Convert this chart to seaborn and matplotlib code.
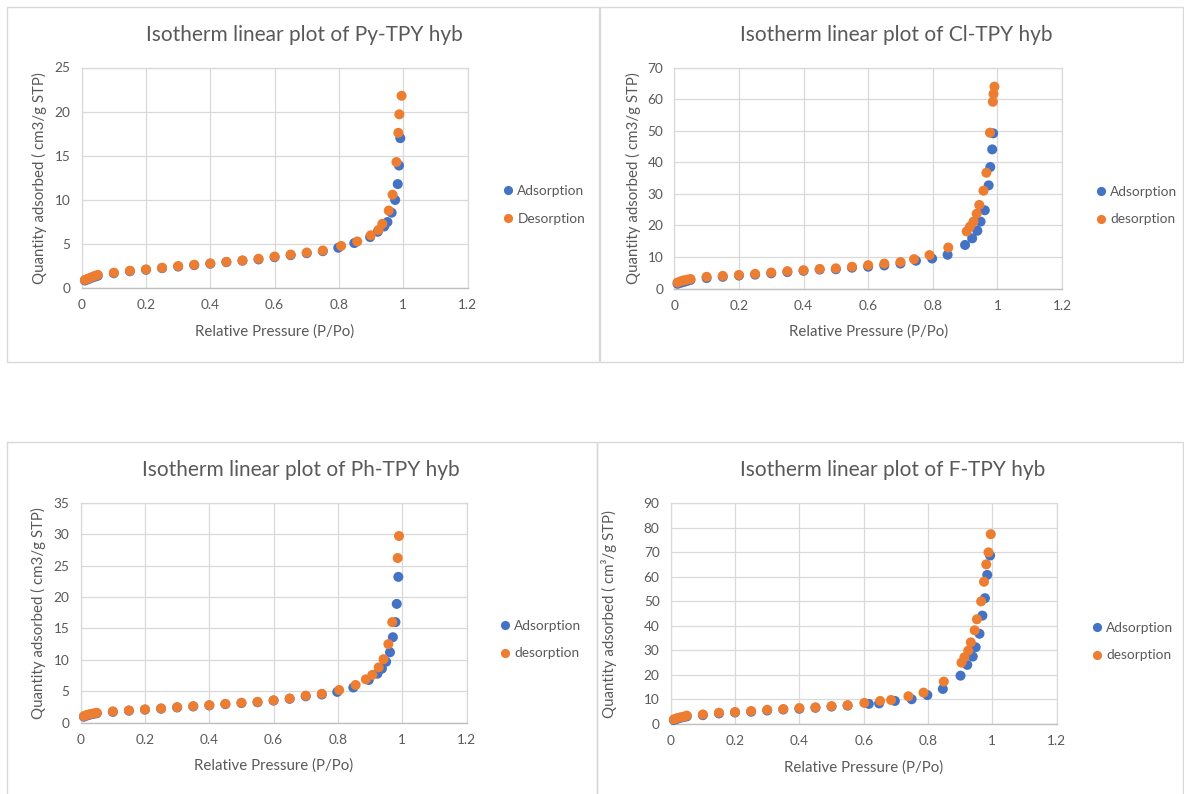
import numpy as np
import pandas as pd
import matplotlib
matplotlib.use("Agg")
import matplotlib.pyplot as plt
from matplotlib.lines import Line2D
from matplotlib.patches import Rectangle
import seaborn as sns

sns.set_theme(style="white")
plt.rcParams["font.family"] = ["Lato", "DejaVu Sans"]

TEXT = "#595959"
GRID = "#D9D9D9"
AXIS = "#BFBFBF"
BLUE = "#4472C4"
ORANGE = "#ED7D31"

W, H = 1184, 794

x_ticks = [0, 0.2, 0.4, 0.6, 0.8, 1.0, 1.2]
x_tick_labels = ["0", "0.2", "0.4", "0.6", "0.8", "1", "1.2"]

# ---- Py-TPY hyb ----
py_ads_x = [0.01, 0.02, 0.03, 0.04, 0.05, 0.10, 0.15, 0.20, 0.25, 0.30, 0.35, 0.40, 0.45, 0.50, 0.55,
            0.60, 0.65, 0.70, 0.75, 0.798, 0.848, 0.897, 0.921, 0.941, 0.951, 0.964, 0.975, 0.983, 0.987, 0.991]
py_ads_y = [0.88, 1.02, 1.17, 1.30, 1.42, 1.70, 1.93, 2.09, 2.28, 2.46, 2.62, 2.78, 2.96, 3.12, 3.27,
            3.52, 3.75, 3.97, 4.20, 4.59, 5.12, 5.80, 6.40, 7.00, 7.50, 8.56, 10.0, 11.8, 13.9, 17.0]
py_des_x = [0.01, 0.02, 0.03, 0.04, 0.05, 0.10, 0.15, 0.20, 0.25, 0.30, 0.35, 0.40, 0.45, 0.50, 0.55,
            0.60, 0.65, 0.70, 0.75, 0.807, 0.857, 0.899, 0.923, 0.935, 0.955, 0.967, 0.979, 0.985, 0.988, 0.995]
py_des_y = [0.95, 1.10, 1.25, 1.40, 1.52, 1.77, 1.99, 2.14, 2.33, 2.52, 2.67, 2.82, 3.00, 3.16, 3.35,
            3.60, 3.82, 4.05, 4.28, 4.80, 5.30, 6.00, 6.60, 7.30, 8.80, 10.6, 14.3, 17.6, 19.7, 21.8]

# ---- Cl-TPY hyb ----
cl_ads_x = [0.01, 0.02, 0.03, 0.04, 0.05, 0.10, 0.15, 0.20, 0.25, 0.30, 0.35, 0.40, 0.45, 0.50, 0.55,
            0.60, 0.65, 0.70, 0.748, 0.798, 0.846, 0.900, 0.922, 0.938, 0.948, 0.961, 0.973, 0.978, 0.984, 0.987]
cl_ads_y = [1.5, 1.8, 2.1, 2.4, 2.7, 3.3, 3.7, 4.1, 4.4, 4.8, 5.2, 5.6, 6.0, 6.1, 6.6,
            6.9, 7.3, 7.9, 8.8, 9.5, 10.7, 13.8, 15.9, 18.3, 21.2, 24.8, 32.7, 38.5, 44.1, 49.2]
cl_des_x = [0.01, 0.02, 0.03, 0.04, 0.05, 0.10, 0.15, 0.20, 0.25, 0.30, 0.35, 0.40, 0.45, 0.50, 0.55,
            0.60, 0.65, 0.70, 0.742, 0.790, 0.848, 0.905, 0.915, 0.926, 0.936, 0.944, 0.957, 0.966, 0.977,
            0.986, 0.988, 0.991]
cl_des_y = [1.9, 2.3, 2.6, 2.8, 3.0, 3.7, 4.0, 4.3, 4.65, 5.07, 5.5, 5.8, 6.2, 6.4, 6.9,
            7.4, 7.9, 8.4, 9.3, 10.6, 13.0, 18.1, 19.6, 21.2, 23.7, 26.5, 31.0, 36.7, 49.4,
            59.2, 61.7, 64.0]

# ---- Ph-TPY hyb ----
ph_ads_x = [0.01, 0.02, 0.03, 0.04, 0.05, 0.10, 0.15, 0.20, 0.25, 0.30, 0.35, 0.40, 0.45, 0.50, 0.55,
            0.60, 0.65, 0.70, 0.75, 0.798, 0.848, 0.896, 0.923, 0.937, 0.950, 0.962, 0.971, 0.979, 0.983, 0.988]
ph_ads_y = [0.95, 1.15, 1.30, 1.40, 1.50, 1.72, 1.90, 2.07, 2.22, 2.42, 2.58, 2.75, 2.95, 3.12, 3.25,
            3.52, 3.80, 4.20, 4.48, 4.90, 5.60, 6.80, 7.80, 8.60, 9.70, 11.2, 13.6, 16.0, 18.9, 23.2]
ph_des_x = [0.01, 0.02, 0.03, 0.04, 0.05, 0.10, 0.15, 0.20, 0.25, 0.30, 0.35, 0.40, 0.45, 0.50, 0.55,
            0.60, 0.65, 0.70, 0.75, 0.804, 0.855, 0.887, 0.907, 0.927, 0.942, 0.957, 0.969, 0.986, 0.990]
ph_des_y = [1.05, 1.25, 1.38, 1.48, 1.58, 1.80, 1.96, 2.12, 2.28, 2.48, 2.64, 2.80, 3.00, 3.18, 3.32,
            3.56, 3.86, 4.30, 4.60, 5.20, 6.00, 6.90, 7.60, 8.80, 10.1, 12.5, 16.0, 26.2, 29.7]

# ---- F-TPY hyb ----
f_ads_x = [0.01, 0.02, 0.03, 0.04, 0.05, 0.10, 0.15, 0.20, 0.25, 0.30, 0.35, 0.40, 0.45, 0.50, 0.55,
           0.616, 0.648, 0.697, 0.749, 0.798, 0.846, 0.901, 0.922, 0.939, 0.948, 0.960, 0.969, 0.977, 0.984, 0.993]
f_ads_y = [1.6, 2.1, 2.5, 2.8, 3.1, 3.6, 4.3, 4.7, 5.0, 5.5, 5.9, 6.2, 6.6, 7.1, 7.5,
           8.2, 8.4, 9.4, 10.1, 11.8, 14.3, 19.7, 24.1, 27.5, 31.3, 36.8, 44.2, 51.3, 60.8, 68.7]
f_des_x = [0.01, 0.02, 0.03, 0.04, 0.05, 0.10, 0.15, 0.20, 0.25, 0.30, 0.35, 0.40, 0.45, 0.50, 0.55,
           0.602, 0.651, 0.685, 0.739, 0.786, 0.849, 0.904, 0.913, 0.925, 0.933, 0.945, 0.952, 0.965, 0.974,
           0.981, 0.988, 0.995]
f_des_y = [1.9, 2.4, 2.7, 3.0, 3.4, 3.9, 4.6, 4.9, 5.3, 5.8, 6.1, 6.5, 6.8, 7.3, 7.7,
           8.6, 9.4, 9.8, 11.3, 12.8, 17.3, 25.0, 27.2, 29.9, 33.3, 38.2, 42.7, 50.0, 58.0,
           65.1, 70.0, 77.4]

titles = ["Isotherm linear plot of Py-TPY hyb", "Isotherm linear plot of Cl-TPY hyb",
          "Isotherm linear plot of Ph-TPY hyb", "Isotherm linear plot of F-TPY hyb"]
series_names = [("Adsorption", "Desorption"), ("Adsorption", "desorption"),
                ("Adsorption", "desorption"), ("Adsorption", "desorption")]
y_labels = ["Quantity adsorbed ( cm3/g STP)", "Quantity adsorbed ( cm3/g STP)",
            "Quantity adsorbed ( cm3/g STP)", "Quantity adsorbed ( cm³/g STP)"]
y_limits = [(25, 5), (70, 10), (35, 5), (90, 10)]
x_label = "Relative Pressure (P/Po)"

series_data = [
    (py_ads_x, py_ads_y, py_des_x, py_des_y),
    (cl_ads_x, cl_ads_y, cl_des_x, cl_des_y),
    (ph_ads_x, ph_ads_y, ph_des_x, ph_des_y),
    (f_ads_x, f_ads_y, f_des_x, f_des_y),
]

# layout in pixels: plot area (left, top, right, bottom), legend marker x / row y,
# title centre, y-label offset, chart frame (x0, y0, x1, y1)
layout = [
    dict(plot=(81.7, 67.5, 467.5, 288.3), leg=(508, 191, 218.5), title=(304, 35), ylab=39,
         frame=(7, 7, 599, 362)),
    dict(plot=(674.3, 67.7, 1062, 288.5), leg=(1101, 192, 219), title=(896, 35), ylab=633,
         frame=(600, 7, 1183, 362)),
    dict(plot=(80.7, 502.7, 466.5, 722.7), leg=(505, 625.5, 653.5), title=(301, 470), ylab=38,
         frame=(7, 442, 597, 800)),
    dict(plot=(670.7, 503.3, 1056.7, 724), leg=(1097, 627.5, 655.5), title=(893, 470), ylab=609,
         frame=(597, 442, 1183, 800)),
]

FS_TITLE = 15
FS_LABEL = 10.8
FS_TICK = 9.8
FS_LEGEND = 9.8

fig = plt.figure(figsize=(W / 100, H / 100), dpi=100)
fig.patch.set_facecolor("white")

for i in range(4):
    lay = layout[i]
    x0, y0, x1, y1 = lay["frame"]
    fig.add_artist(Rectangle((x0 / W, 1 - y1 / H), (x1 - x0) / W, (y1 - y0) / H,
                             transform=fig.transFigure, fill=False, edgecolor=GRID, lw=1.0))

    l, t, r, b = lay["plot"]
    ax = fig.add_axes([l / W, 1 - b / H, (r - l) / W, (b - t) / H])

    ads_x, ads_y, des_x, des_y = series_data[i]
    name_a, name_d = series_names[i]
    df = pd.DataFrame({
        "P": list(ads_x) + list(des_x),
        "Q": list(ads_y) + list(des_y),
        "series": [name_a] * len(ads_x) + [name_d] * len(des_x),
    })
    sns.scatterplot(data=df, x="P", y="Q", hue="series", palette={name_a: BLUE, name_d: ORANGE},
                    s=52, linewidth=0, alpha=1, ax=ax, legend=False, zorder=3, clip_on=False)

    ymax, ystep = y_limits[i]
    ax.set_xlim(0, 1.2)
    ax.set_ylim(0, ymax)
    ax.set_xticks(x_ticks)
    ax.set_xticklabels(x_tick_labels)
    ax.set_yticks(np.arange(0, ymax + ystep / 2, ystep))
    ax.set_yticklabels([str(int(v)) for v in np.arange(0, ymax + ystep / 2, ystep)])
    ax.tick_params(length=0, pad=8, labelsize=FS_TICK, labelcolor=TEXT)
    ax.grid(True, color=GRID, linewidth=0.9)
    ax.set_axisbelow(True)
    for side in ["top", "right", "left"]:
        ax.spines[side].set_color(GRID)
        ax.spines[side].set_linewidth(0.9)
    ax.spines["bottom"].set_color(AXIS)
    ax.spines["bottom"].set_linewidth(1.0)

    ax.set_xlabel(x_label, fontsize=FS_LABEL, color=TEXT)
    ax.set_ylabel(y_labels[i], fontsize=FS_LABEL, color=TEXT)
    ax.xaxis.set_label_coords(0.5, -(331.5 - 288.3) / 220.8)
    ax.yaxis.set_label_coords((lay["ylab"] - l) / (r - l), 0.5)
    ax.yaxis.label.set_verticalalignment("center")
    ax.xaxis.label.set_verticalalignment("center")

    tx, ty = lay["title"]
    fig.text(tx / W, 1 - ty / H, titles[i], fontsize=FS_TITLE, color=TEXT, ha="center", va="center")

    mx, ly1, ly2 = lay["leg"]
    handles = [Line2D([], [], marker="o", linestyle="", markersize=6.6, markerfacecolor=BLUE,
                      markeredgewidth=0),
               Line2D([], [], marker="o", linestyle="", markersize=6.6, markerfacecolor=ORANGE,
                      markeredgewidth=0)]
    fig.legend(handles, [name_a, name_d], loc="center left",
               bbox_to_anchor=((mx - 5) / W, 1 - (ly1 + ly2) / 2 / H),
               bbox_transform=fig.transFigure, frameon=False, fontsize=FS_LEGEND,
               labelcolor=TEXT, handlelength=0.75, handletextpad=0.3,
               borderpad=0, borderaxespad=0, labelspacing=1.15)

fig.savefig("out.png", dpi=100, facecolor="white")
